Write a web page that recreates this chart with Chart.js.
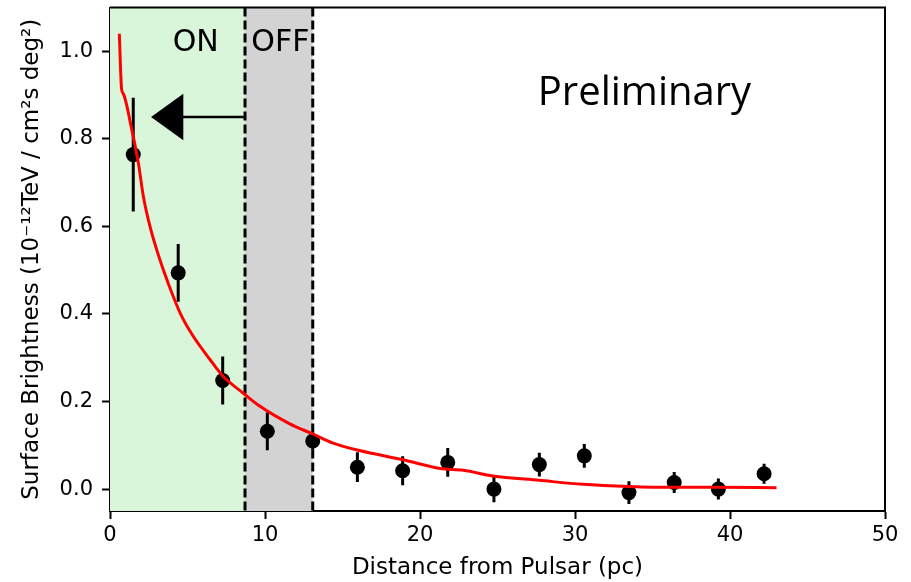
<!DOCTYPE html>
<html>
<head>
<meta charset="utf-8">
<script src="https://cdn.jsdelivr.net/npm/chart.js@4"></script>
<style>
  html, body { margin: 0; padding: 0; background: #fff; }
</style>
</head>
<body>
<canvas id="profile" width="911" height="582"></canvas>
<script>
// Measured surface brightness vs. distance from the pulsar
const distance = [1.5, 4.4, 7.27, 10.15, 13.08, 15.96, 18.88, 21.79, 24.77, 27.7, 30.6, 33.48, 36.4, 39.25, 42.2];
const brightness = [0.764, 0.494, 0.248, 0.132, 0.110, 0.050, 0.042, 0.061, 0.0, 0.056, 0.076, -0.008, 0.015, 0.0, 0.035];
const brightnessErr = [0.13, 0.066, 0.055, 0.043, 0.02, 0.034, 0.033, 0.033, 0.03, 0.027, 0.027, 0.026, 0.024, 0.024, 0.023];

// Diffusion model curve
const modelX = [0.6, 0.75, 0.86, 1.4, 1.83, 2.15, 2.58, 3.01, 3.44, 4.08, 4.62, 5.37, 6.45, 7.31, 8.6, 9.68, 11.6, 13.08, 14.4, 16.1, 18.9, 21.3, 22.8, 24.7, 27.7, 30.5, 33.5, 36.3, 39.2, 43.0];
const modelY = [1.04, 0.913, 0.903, 0.822, 0.745, 0.669, 0.600, 0.547, 0.501, 0.440, 0.395, 0.349, 0.296, 0.257, 0.219, 0.189, 0.149, 0.126, 0.105, 0.088, 0.067, 0.047, 0.043, 0.030, 0.020, 0.011, 0.006, 0.004, 0.004, 0.003];

const xTicks = [0, 10, 20, 30, 40, 50];
const yTicks = [0.0, 0.2, 0.4, 0.6, 0.8, 1.0];

// ON / OFF integration regions (pc)
const onRegion = [0, 8.71];
const offRegion = [8.71, 13.08];

const FONT = 'DejaVu Sans';

const overlay = {
    id: 'overlay',
    beforeDatasetsDraw(chart) {
        const { ctx, chartArea: a, scales: { x, y } } = chart;
        ctx.save();
        ctx.beginPath();
        ctx.rect(a.left, a.top, a.right - a.left, a.bottom - a.top);
        ctx.clip();

        // shaded regions
        ctx.fillStyle = '#daf6da';
        ctx.fillRect(x.getPixelForValue(onRegion[0]), a.top,
            x.getPixelForValue(onRegion[1]) - x.getPixelForValue(onRegion[0]), a.bottom - a.top);
        ctx.fillStyle = '#d3d3d3';
        ctx.fillRect(x.getPixelForValue(offRegion[0]), a.top,
            x.getPixelForValue(offRegion[1]) - x.getPixelForValue(offRegion[0]), a.bottom - a.top);

        // region boundaries
        ctx.strokeStyle = '#000';
        ctx.lineWidth = 3;
        ctx.setLineDash([9, 4]);
        [offRegion[0], offRegion[1]].forEach(v => {
            const px = x.getPixelForValue(v);
            ctx.beginPath();
            ctx.moveTo(px, a.top);
            ctx.lineTo(px, a.bottom);
            ctx.stroke();
        });
        ctx.setLineDash([]);

        // labels
        ctx.fillStyle = '#000';
        ctx.font = '30px "' + FONT + '"';
        ctx.textAlign = 'center';
        ctx.textBaseline = 'alphabetic';
        ctx.fillText('ON', x.getPixelForValue(5.53), y.getPixelForValue(1.0));
        ctx.fillText('OFF', x.getPixelForValue(10.99), y.getPixelForValue(1.0));

        // arrow pointing into the ON region
        const ay = y.getPixelForValue(0.85);
        ctx.lineWidth = 2.5;
        ctx.beginPath();
        ctx.moveTo(x.getPixelForValue(onRegion[1]), ay);
        ctx.lineTo(x.getPixelForValue(4.6), ay);
        ctx.stroke();
        ctx.beginPath();
        ctx.moveTo(x.getPixelForValue(2.65), ay);
        ctx.lineTo(x.getPixelForValue(4.73), y.getPixelForValue(0.903));
        ctx.lineTo(x.getPixelForValue(4.73), y.getPixelForValue(0.797));
        ctx.closePath();
        ctx.fill();

        // error bars
        ctx.lineWidth = 3;
        distance.forEach((d, i) => {
            const px = x.getPixelForValue(d);
            ctx.beginPath();
            ctx.moveTo(px, y.getPixelForValue(brightness[i] - brightnessErr[i]));
            ctx.lineTo(px, y.getPixelForValue(brightness[i] + brightnessErr[i]));
            ctx.stroke();
        });
        ctx.restore();
    },
    afterDatasetsDraw(chart) {
        const { ctx, chartArea: a, scales: { x, y } } = chart;
        ctx.save();
        // close the frame on top and right
        ctx.strokeStyle = '#000';
        ctx.lineWidth = 2;
        ctx.beginPath();
        ctx.moveTo(a.left, a.top);
        ctx.lineTo(a.right, a.top);
        ctx.lineTo(a.right, a.bottom);
        ctx.stroke();

        ctx.fillStyle = '#000';
        ctx.font = '40px "Open Sans"';
        ctx.textAlign = 'left';
        ctx.textBaseline = 'alphabetic';
        ctx.fillText('Preliminary', x.getPixelForValue(27.6), y.getPixelForValue(0.878));
        ctx.restore();
    }
};

new Chart(document.getElementById('profile'), {
    type: 'scatter',
    data: {
        datasets: [
            {
                type: 'line',
                data: modelX.map((v, i) => ({ x: v, y: modelY[i] })),
                borderColor: '#ff0000',
                borderWidth: 3,
                pointRadius: 0,
                cubicInterpolationMode: 'monotone',
                fill: false,
                order: 0
            },
            {
                data: distance.map((v, i) => ({ x: v, y: brightness[i] })),
                pointRadius: 7.5,
                pointBackgroundColor: '#000',
                pointBorderWidth: 0,
                showLine: false,
                order: 1
            }
        ]
    },
    options: {
        responsive: false,
        animation: false,
        layout: { padding: { top: 7, right: 26, left: 0, bottom: 0 } },
        plugins: { legend: { display: false }, tooltip: { enabled: false } },
        scales: {
            x: {
                type: 'linear',
                min: 0,
                max: 50,
                afterBuildTicks: s => { s.ticks = xTicks.map(v => ({ value: v })); },
                afterFit: s => { s.height = 71; s.paddingLeft = 0; s.paddingRight = 0; },
                grid: { drawOnChartArea: false, drawTicks: true, tickLength: 8, tickWidth: 2, tickColor: '#000' },
                border: { display: true, color: '#000', width: 2 },
                ticks: { color: '#000', font: { family: FONT, size: 21 }, padding: 4, maxRotation: 0,
                    callback: v => String(v) },
                title: { display: true, text: 'Distance from Pulsar (pc)', color: '#000',
                    font: { family: FONT, size: 23 }, padding: { top: 0, bottom: 0 } }
            },
            y: {
                type: 'linear',
                min: -0.05,
                max: 1.1,
                afterBuildTicks: s => { s.ticks = yTicks.map(v => ({ value: v })); },
                afterFit: s => { s.width = 110; s.paddingTop = 0; s.paddingBottom = 0; },
                grid: { drawOnChartArea: false, drawTicks: true, tickLength: 8, tickWidth: 2, tickColor: '#000' },
                border: { display: true, color: '#000', width: 2 },
                ticks: { color: '#000', font: { family: FONT, size: 21 }, padding: 9,
                    callback: v => v.toFixed(1) },
                title: { display: true, text: 'Surface Brightness (10⁻¹²TeV / cm²s deg²)', color: '#000',
                    font: { family: FONT, size: 23 }, padding: { top: 18, bottom: 0 } }
            }
        }
    },
    plugins: [overlay]
});
</script>
</body>
</html>
